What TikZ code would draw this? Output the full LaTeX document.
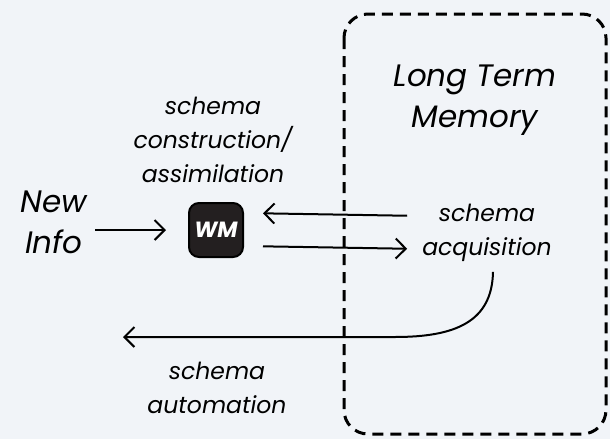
\documentclass[tikz,border=0pt]{standalone}
\usepackage{fontspec}
\setmainfont{Poppins}
\usepackage{xcolor}
\usetikzlibrary{arrows.meta}
\definecolor{paper}{HTML}{F1F4F8}
\definecolor{wmfill}{HTML}{231F20}
\tikzset{
	smalltext/.style={align=center,inner sep=0pt,font=\fontsize{23.5}{34}\selectfont\itshape},
	bigtext/.style={align=center,inner sep=0pt,font=\fontsize{31}{41}\selectfont\itshape},
	WMnode/.style={draw=black,line width=2pt,fill=wmfill,rounded corners=10pt,minimum size=54pt,
		text=white,font=\fontsize{22}{22}\selectfont\itshape\bfseries},
	flow/.style={line width=2pt,-{Straight Barb[length=10pt,width=20pt,line width=2pt]}},
	ltmbox/.style={line width=3pt,dash pattern=on 11pt off 7pt,rounded corners=24pt}
}

\begin{document}
\begin{tikzpicture}[x=1pt,y=-1pt]
	\fill[paper] (0,0) rectangle (610,439);
	\useasboundingbox (0,0) rectangle (610,439);
	% long term memory
	\draw[ltmbox] (344,14) rectangle (606,434);
	\node[bigtext] (LTM) at (475,100) {Long Term\\Memory};
	%
	\node[bigtext] (New) at (54,222) {New\\Info};
	\node[WMnode] (WM) at (216,230) {WM};
	\node[smalltext] (constr) at (213,140) {schema\\construction/\\assimilation};
	\node[smalltext] (acq) at (487,233) {schema\\acquisition};
	\node[smalltext] (auto) at (217,388) {schema\\automation};
	\coordinate (autoend) at (123,337);
	%
	\path[flow]
	(New.east |- WM.west) edge[shorten <=8pt,shorten >=22pt] (WM.west)
	([yshift=17pt]acq.west) edge[shorten <=15pt,shorten >=19pt] ([yshift=17pt]WM.east)
	([yshift=-16pt]WM.east) edge[shorten <=19pt,shorten >=15pt] ([yshift=-16pt]acq.west);
	\draw[flow] ([xshift=6pt,yshift=-10pt]acq.south) .. controls (492,322) and (455,337) .. (395,337) -- (autoend);
\end{tikzpicture}
\end{document}
